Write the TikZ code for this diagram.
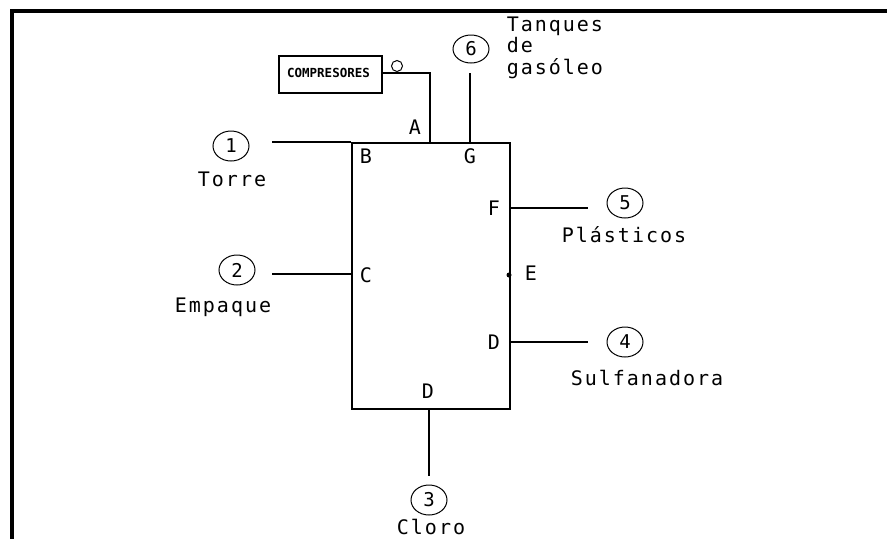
\documentclass[tikz,border=0pt]{standalone}
\usepackage{fontspec}
\usetikzlibrary{shapes.geometric}
\newfontfamily\labfont[LetterSpace=10]{DejaVu Sans Mono}
\newfontfamily\compfont{DejaVu Sans Mono Bold}
\begin{document}
\begin{tikzpicture}[x=1pt,y=-1pt,
  line width=1.5pt,
  lbl/.style={font=\labfont\fontsize{20}{22}\selectfont, inner sep=0pt},
  num/.style={draw, ellipse, line width=1pt, minimum width=36pt, minimum height=30pt, inner sep=0pt, font=\fontspec{DejaVu Sans Mono}\fontsize{19}{20}\selectfont},
  wire/.style={line width=1.5pt}
]
\useasboundingbox (0,0) rectangle (887,539);
% frame
\draw[line width=4pt] (887,10.5) -- (12,10.5) -- (12,539);
% plant
\node[draw, line width=1.5pt, minimum width=158pt, minimum height=266pt, inner sep=0pt, anchor=north west] (plant) at (351,142) {};
% compressor box
\node[draw, line width=1.5pt, minimum width=103pt, minimum height=37pt, inner sep=0pt] (comp) at (330.5,74.5) {};
\node[font=\compfont\fontsize{12.5}{13}\selectfont, inner sep=0pt] (comptxt) at (328.5,72.5) {COMPRESORES};
\node[draw, circle, line width=1pt, minimum size=11pt, inner sep=0pt] (o) at (397,66) {};
% attachment points
\coordinate (pA) at (430,142);
\coordinate (pB) at (351,142);
\coordinate (pG) at (470,142);
\coordinate (pC) at (351,274);
\coordinate (pF) at (509,208);
\coordinate (pE) at (509,275);
\coordinate (pD) at (509,342);
\coordinate (pDb) at (429,408);
% free ends
\coordinate (e1) at (272,142);
\coordinate (e2) at (272,274);
\coordinate (e5) at (588,208);
\coordinate (e4) at (588,342);
\coordinate (e3) at (429,476);
\coordinate (e6) at (470,73);
% connectors
\draw[wire] (comp.east |- 0,73) -- (430,73) -- (pA);
\draw[wire] (e6) -- (pG);
\draw[wire] (e1) -- (pB);
\draw[wire] (e2) -- (pC);
\draw[wire] (pF) -- (e5);
\draw[wire] (pD) -- (e4);
\draw[wire] (pDb) -- (e3);
\fill (pE) circle (2.5pt);
% point labels
\node[lbl] (lA) at (415,127) {A};
\node[lbl] (lB) at (366,156) {B};
\node[lbl] (lG) at (470,156) {G};
\node[lbl] (lC) at (366,275) {C};
\node[lbl] (lF) at (494,208) {F};
\node[lbl] (lE) at (531,273) {E};
\node[lbl] (lD) at (494,342) {D};
\node[lbl] (lDb) at (428,391) {D};
% numbered circles
\node[num] (c1) at (231,146) {1};
\node[num] (c2) at (237,270) {2};
\node[num] (c3) at (429,500) {3};
\node[num] (c4) at (625,342) {4};
\node[num] (c5) at (625,203) {5};
\node[num, minimum height=28pt] (c6) at (471,49) {6};
% names
\node[lbl, anchor=base] (t1) at (232,186) {Torre};
\node[lbl, anchor=base] (t2) at (223,312) {Empaque};
\node[lbl, anchor=base] (t5) at (624,242) {Plásticos};
\node[lbl, anchor=base] (t4) at (647,385) {Sulfanadora};
\node[lbl, anchor=base] (t3) at (431,534) {Cloro};
\node[lbl, anchor=base west] (t6a) at (506,31) {Tanques};
\node[lbl, anchor=base west] (t6b) at (506,52.5) {de};
\node[lbl, anchor=base west] (t6c) at (506,74) {gasóleo};
\end{tikzpicture}
\end{document}
